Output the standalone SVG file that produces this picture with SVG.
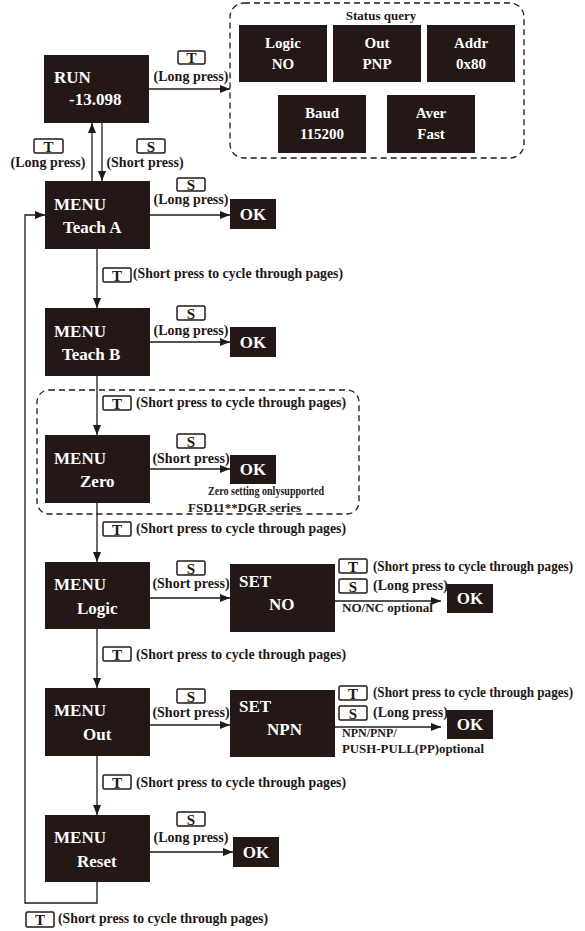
<svg xmlns="http://www.w3.org/2000/svg" width="585" height="931" viewBox="0 0 585 931">
<defs>
<marker id="ah" markerUnits="userSpaceOnUse" markerWidth="10" markerHeight="8" refX="10" refY="4" orient="auto">
<path d="M0,0 L10,4 L0,8 z" fill="#231815"/>
</marker>
<style>
text{font-family:"Liberation Serif","DejaVu Serif",serif;font-weight:bold;fill:#231815}
.box{fill:#231815}
.bt{fill:#fff;font-size:17px}
.st{fill:#fff;font-size:15px;text-anchor:middle}
.ok{fill:#fff;font-size:17px;text-anchor:middle}
.key{fill:#fff;stroke:#231815;stroke-width:1.5}
.kl{font-size:15px;text-anchor:middle}
.lb{font-size:14px}
.lbc{font-size:14px;text-anchor:middle}
.sm{font-size:12px}
.ln{fill:none;stroke:#231815;stroke-width:1.3}
.ar{fill:none;stroke:#231815;stroke-width:1.3;marker-end:url(#ah)}
.dash{fill:none;stroke:#231815;stroke-width:1.3;stroke-dasharray:6 4}
</style>
</defs>

<g id="status-query">
<rect class="dash" x="230" y="3" width="294" height="155" rx="14"/>
<text x="381" y="20" font-size="13" text-anchor="middle">Status query</text>
<g id="sq-logic"><rect class="box" x="239" y="25" width="88" height="57"/><text class="st" x="283" y="48">Logic</text><text class="st" x="283" y="69">NO</text></g>
<g id="sq-out"><rect class="box" x="333" y="25" width="88" height="57"/><text class="st" x="377" y="48">Out</text><text class="st" x="377" y="69">PNP</text></g>
<g id="sq-addr"><rect class="box" x="427" y="25" width="88" height="57"/><text class="st" x="471" y="48">Addr</text><text class="st" x="471" y="69">0x80</text></g>
<g id="sq-baud"><rect class="box" x="278" y="95" width="88" height="58"/><text class="st" x="322" y="118">Baud</text><text class="st" x="322" y="139">115200</text></g>
<g id="sq-aver"><rect class="box" x="387" y="95" width="88" height="58"/><text class="st" x="431" y="118">Aver</text><text class="st" x="431" y="139">Fast</text></g>
</g>

<g id="zero-group-frame"><rect class="dash" x="37" y="390" width="322" height="124" rx="12"/></g>

<g id="connectors">
<line class="ar" x1="149" y1="89" x2="230" y2="89"/>
<line class="ar" x1="92" y1="181" x2="92" y2="123"/>
<line class="ar" x1="102" y1="123" x2="102" y2="181"/>
<line class="ar" x1="150" y1="215" x2="230" y2="215"/>
<line class="ar" x1="97" y1="249" x2="97" y2="308"/>
<line class="ar" x1="150" y1="342" x2="230" y2="342"/>
<line class="ar" x1="97" y1="376" x2="97" y2="435"/>
<line class="ar" x1="150" y1="469" x2="230" y2="469"/>
<line class="ar" x1="97" y1="503" x2="97" y2="562"/>
<line class="ar" x1="150" y1="598" x2="230" y2="598"/>
<line class="ar" x1="335" y1="601" x2="441" y2="601"/>
<line class="ar" x1="97" y1="629" x2="97" y2="688"/>
<line class="ar" x1="150" y1="725" x2="230" y2="725"/>
<line class="ar" x1="335" y1="727" x2="441" y2="727"/>
<line class="ar" x1="97" y1="756" x2="97" y2="815"/>
<line class="ar" x1="150" y1="852" x2="233" y2="852"/>
<polyline class="ar" points="97,882 97,903 25,903 25,215 45,215"/>
</g>

<g id="labels">
<rect class="key" x="178" y="51" width="27" height="13" rx="1.5"/><text class="kl" x="191.5" y="63">T</text>
<text class="lbc" x="191" y="81">(Long press)</text>
<rect class="key" x="34" y="139" width="29" height="14" rx="1.5"/><text class="kl" x="48.5" y="152">T</text>
<text class="lbc" x="48" y="167">(Long press)</text>
<rect class="key" x="137" y="139" width="28" height="14" rx="1.5"/><text class="kl" x="151" y="152">S</text>
<text class="lbc" x="145" y="167">(Short press)</text>

<rect class="key" x="177" y="178" width="28" height="13" rx="1.5"/><text class="kl" x="191" y="190">S</text>
<text class="lbc" x="191" y="204">(Long press)</text>

<rect class="key" x="103" y="268" width="28" height="14" rx="1.5"/><text class="kl" x="117" y="281">T</text>
<text class="lb" x="133" y="278" textLength="210" lengthAdjust="spacingAndGlyphs">(Short press to cycle through pages)</text>

<rect class="key" x="177" y="306" width="28" height="14" rx="1.5"/><text class="kl" x="191" y="319">S</text>
<text class="lbc" x="191" y="335">(Long press)</text>

<rect class="key" x="103" y="396" width="28" height="14" rx="1.5"/><text class="kl" x="117" y="409">T</text>
<text class="lb" x="136" y="407" textLength="210" lengthAdjust="spacingAndGlyphs">(Short press to cycle through pages)</text>

<rect class="key" x="177" y="434" width="28" height="14" rx="1.5"/><text class="kl" x="191" y="447">S</text>
<text class="lbc" x="191" y="463">(Short press)</text>
<text class="sm" x="208" y="495" textLength="116" lengthAdjust="spacingAndGlyphs">Zero setting onlysupported</text>
<text class="sm" x="188" y="512" textLength="113" lengthAdjust="spacingAndGlyphs">FSD11**DGR series</text>

<rect class="key" x="103" y="522" width="28" height="14" rx="1.5"/><text class="kl" x="117" y="535">T</text>
<text class="lb" x="136" y="533" textLength="210" lengthAdjust="spacingAndGlyphs">(Short press to cycle through pages)</text>

<rect class="key" x="177" y="561" width="28" height="14" rx="1.5"/><text class="kl" x="191" y="574">S</text>
<text class="lbc" x="191" y="588">(Short press)</text>

<rect class="key" x="339" y="559" width="28" height="14" rx="1.5"/><text class="kl" x="353" y="572">T</text>
<text class="lb" x="373" y="571" textLength="200" lengthAdjust="spacingAndGlyphs">(Short press to cycle through pages)</text>
<rect class="key" x="339" y="579" width="28" height="14" rx="1.5"/><text class="kl" x="353" y="592">S</text>
<text class="lb" x="373" y="590">(Long press)</text>
<text class="sm" x="342" y="612" textLength="91" lengthAdjust="spacingAndGlyphs">NO/NC optional</text>

<rect class="key" x="103" y="647" width="28" height="14" rx="1.5"/><text class="kl" x="117" y="660">T</text>
<text class="lb" x="136" y="659" textLength="210" lengthAdjust="spacingAndGlyphs">(Short press to cycle through pages)</text>

<rect class="key" x="177" y="689" width="28" height="14" rx="1.5"/><text class="kl" x="191" y="702">S</text>
<text class="lbc" x="191" y="717">(Short press)</text>

<rect class="key" x="339" y="686" width="28" height="14" rx="1.5"/><text class="kl" x="353" y="699">T</text>
<text class="lb" x="373" y="697" textLength="200" lengthAdjust="spacingAndGlyphs">(Short press to cycle through pages)</text>
<rect class="key" x="339" y="706" width="28" height="14" rx="1.5"/><text class="kl" x="353" y="719">S</text>
<text class="lb" x="373" y="717">(Long press)</text>
<text class="sm" x="342" y="737">NPN/PNP/</text>
<text class="sm" x="342" y="753" textLength="142" lengthAdjust="spacingAndGlyphs">PUSH-PULL(PP)optional</text>

<rect class="key" x="103" y="775" width="28" height="14" rx="1.5"/><text class="kl" x="117" y="788">T</text>
<text class="lb" x="136" y="787" textLength="210" lengthAdjust="spacingAndGlyphs">(Short press to cycle through pages)</text>

<rect class="key" x="177" y="812" width="28" height="14" rx="1.5"/><text class="kl" x="191" y="825">S</text>
<text class="lbc" x="191" y="842">(Long press)</text>

<rect class="key" x="26" y="912" width="28" height="15" rx="1.5"/><text class="kl" x="40" y="925">T</text>
<text class="lb" x="58" y="923" textLength="210" lengthAdjust="spacingAndGlyphs">(Short press to cycle through pages)</text>
</g>

<g id="run"><rect class="box" x="44" y="55" width="105" height="68"/><text class="bt" x="54" y="83">RUN</text><text class="bt" x="69" y="105">-13.098</text></g>
<g id="teach-a"><rect class="box" x="45" y="181" width="105" height="68"/><text class="bt" x="54" y="210">MENU</text><text class="bt" x="63" y="233">Teach A</text></g>
<g id="ok-a"><rect class="box" x="230" y="199" width="46" height="30"/><text class="ok" x="253" y="220">OK</text></g>
<g id="teach-b"><rect class="box" x="45" y="308" width="105" height="68"/><text class="bt" x="54" y="337">MENU</text><text class="bt" x="62" y="360">Teach B</text></g>
<g id="ok-b"><rect class="box" x="230" y="327" width="46" height="30"/><text class="ok" x="253" y="348">OK</text></g>
<g id="zero"><rect class="box" x="45" y="435" width="105" height="68"/><text class="bt" x="54" y="464">MENU</text><text class="bt" x="80" y="487">Zero</text></g>
<g id="ok-zero"><rect class="box" x="230" y="455" width="46" height="29"/><text class="ok" x="253" y="475">OK</text></g>
<g id="logic"><rect class="box" x="45" y="562" width="105" height="67"/><text class="bt" x="54" y="590">MENU</text><text class="bt" x="77" y="614">Logic</text></g>
<g id="set-no"><rect class="box" x="230" y="564" width="105" height="68"/><text class="bt" x="239" y="587">SET</text><text class="bt" x="269" y="610">NO</text></g>
<g id="ok-no"><rect class="box" x="447" y="584" width="46" height="29"/><text class="ok" x="470" y="604">OK</text></g>
<g id="out"><rect class="box" x="45" y="688" width="105" height="68"/><text class="bt" x="54" y="716">MENU</text><text class="bt" x="83" y="740">Out</text></g>
<g id="set-npn"><rect class="box" x="230" y="690" width="105" height="67"/><text class="bt" x="239" y="712">SET</text><text class="bt" x="267" y="735">NPN</text></g>
<g id="ok-npn"><rect class="box" x="447" y="710" width="46" height="29"/><text class="ok" x="470" y="730">OK</text></g>
<g id="reset"><rect class="box" x="45" y="815" width="105" height="67"/><text class="bt" x="54" y="843">MENU</text><text class="bt" x="77" y="867">Reset</text></g>
<g id="ok-reset"><rect class="box" x="233" y="837" width="46" height="30"/><text class="ok" x="256" y="858">OK</text></g>
</svg>
